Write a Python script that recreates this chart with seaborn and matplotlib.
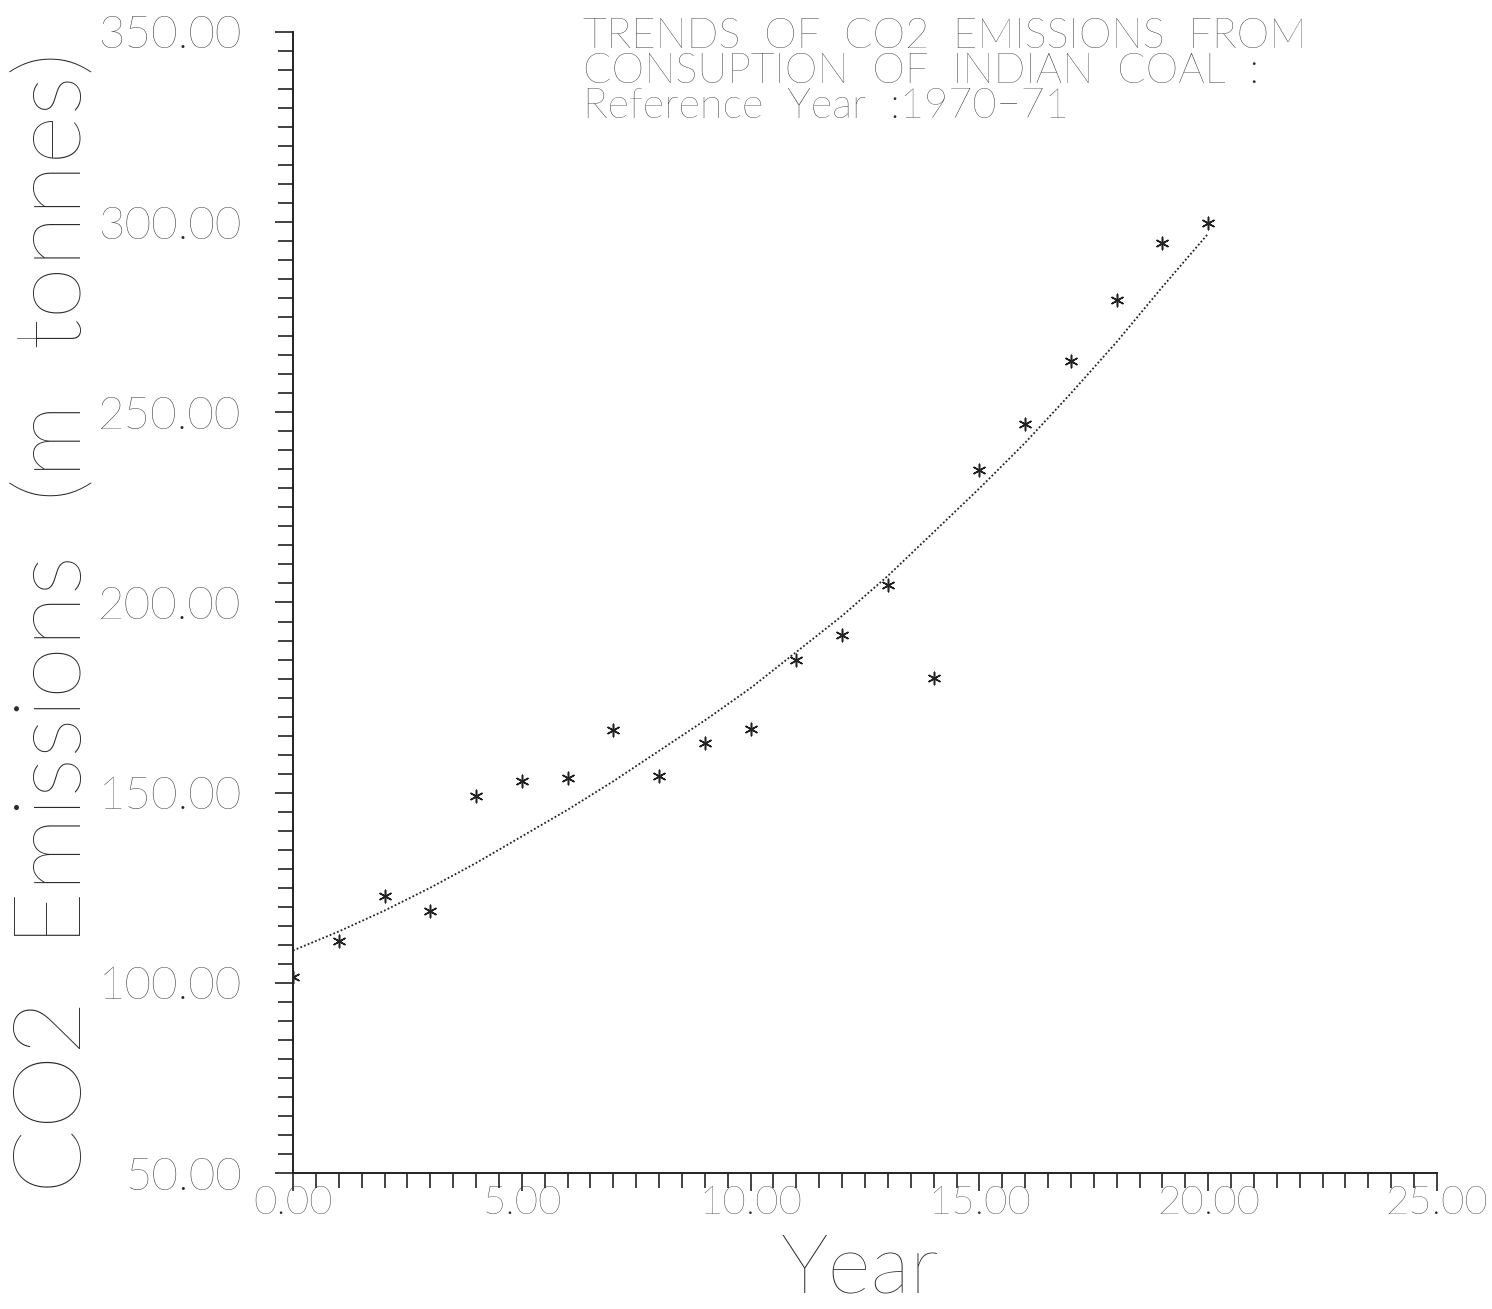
import numpy as np
import pandas as pd
import matplotlib
matplotlib.use("Agg")
import matplotlib.pyplot as plt
from matplotlib.ticker import MultipleLocator, FormatStrFormatter
import seaborn as sns

# values
years = list(range(21))
co2_actual = [101.5, 111.1, 122.7, 118.8, 149.0, 153.0, 153.9, 166.6, 154.3, 163.1, 166.8,
              185.0, 191.4, 204.6, 180.2, 234.8, 246.9, 263.5, 279.6, 294.5, 299.8]
co2_trend = [108.5, 113.5, 119.0, 125.0, 131.5, 138.5, 145.5, 153.0, 161.0, 169.0, 177.5,
             187.0, 196.5, 207.0, 218.5, 230.0, 242.0, 255.0, 268.5, 283.0, 297.0]

title_lines = ["TRENDS  OF  CO2  EMISSIONS  FROM",
               "CONSUPTION  OF  INDIAN  COAL  :",
               "Reference  Year  :1970\u221271"]

df = pd.DataFrame({"year": years, "actual": co2_actual, "trend": co2_trend})

sns.set_style("ticks")
plt.rcParams["font.family"] = ["Lato", "DejaVu Sans"]
plt.rcParams["font.weight"] = "light"

W, H = 1492, 1309
fig = plt.figure(figsize=(W / 100, H / 100), dpi=100)
ax = fig.add_axes([293 / W, 1 - 1173 / H, (1437 - 293) / W, (1173 - 32) / H])

txt = "#2a2a2a"
ink = "#222222"

sns.lineplot(data=df, x="year", y="trend", ax=ax, color=ink, linewidth=1.3,
             linestyle=(0, (1, 1.2)))
sns.scatterplot(data=df, x="year", y="actual", ax=ax, marker=(6, 2, 0), s=80,
                color=ink, linewidth=1.1)

ax.set_xlim(0, 25)
ax.set_ylim(50, 350)
ax.xaxis.set_major_locator(MultipleLocator(5))
ax.xaxis.set_minor_locator(MultipleLocator(0.5))
ax.yaxis.set_major_locator(MultipleLocator(50))
ax.yaxis.set_minor_locator(MultipleLocator(5))
ax.xaxis.set_major_formatter(FormatStrFormatter("%.2f"))
ax.yaxis.set_major_formatter(FormatStrFormatter("%.2f"))

sns.despine(ax=ax)
for s in ["left", "bottom"]:
    ax.spines[s].set_color(ink)
    ax.spines[s].set_linewidth(1.4)

ax.tick_params(axis="both", which="both", direction="out", color=ink, width=1.2)
ax.tick_params(axis="both", which="major", length=13)
ax.tick_params(axis="both", which="minor", length=11)
ax.tick_params(axis="y", which="major", pad=24, labelsize=33, labelcolor=txt)
ax.tick_params(axis="x", which="major", pad=-4, labelsize=29, labelcolor=txt)

ax.set_xlabel("")
ax.set_ylabel("")
fig.text(860 / W, 1 - 1270 / H, "Year", ha="center", va="center",
         fontsize=60, color=txt)
fig.text(56 / W, 1 - 622 / H, "CO2  Emissions  (m  tonnes)", ha="center", va="center",
         rotation=90, fontsize=68, color=txt)

for i, line in enumerate(title_lines):
    fig.text(583 / W, 1 - (37 + 35 * i) / H, line, ha="left", va="center",
             fontsize=30, color=txt)

fig.savefig("out.png", dpi=100, facecolor="white")
